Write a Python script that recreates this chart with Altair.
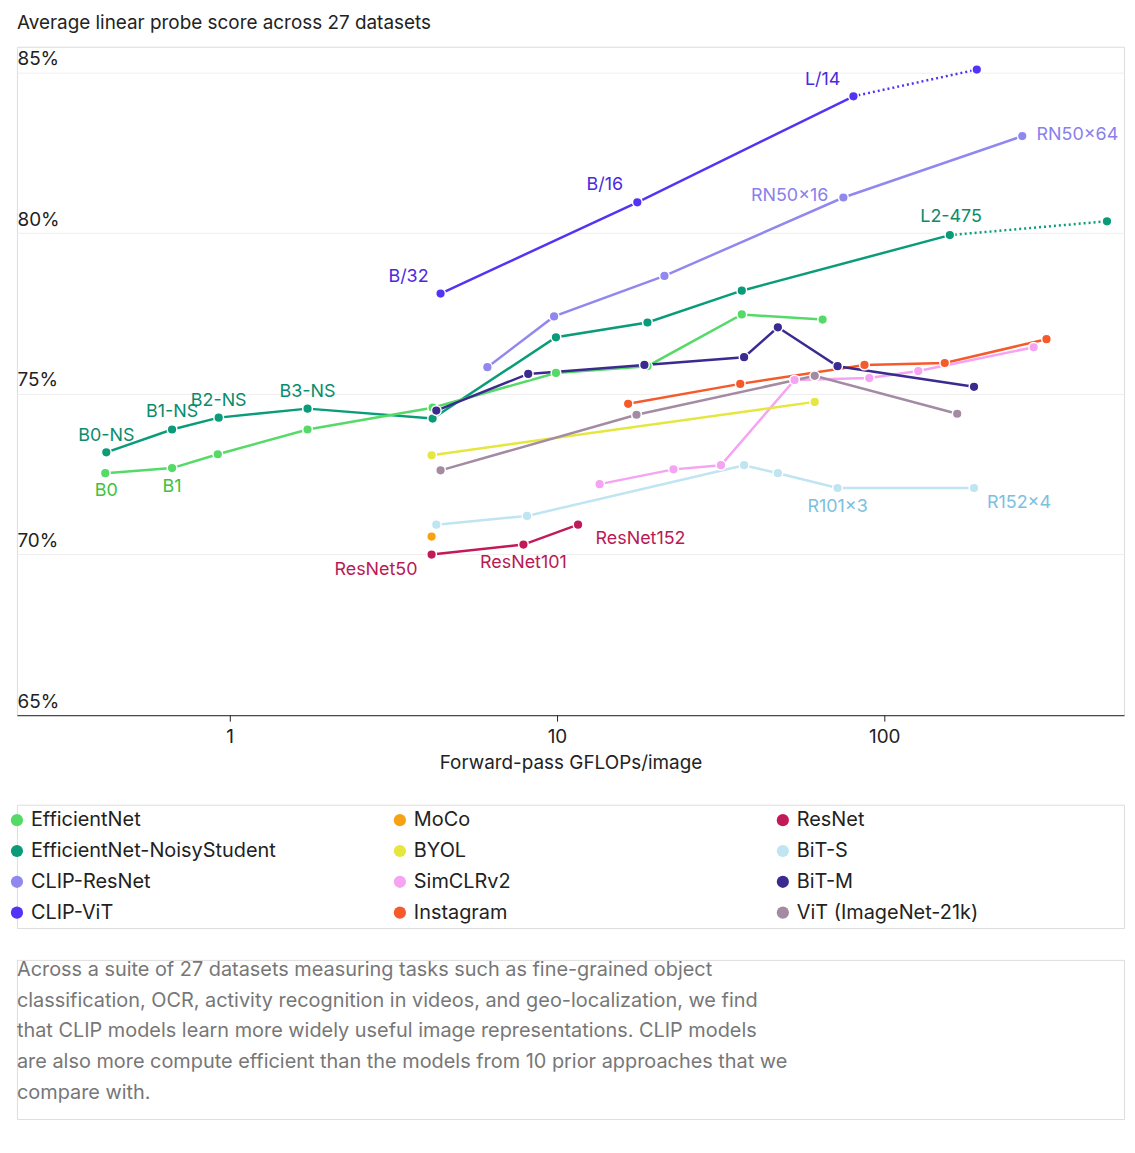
import pandas as pd
import altair as alt

FONT = "Inter"

# series: name -> (gflops list, score list)
names = ["CLIP-ViT", "Instagram", "ViT (ImageNet-21k)",
         "CLIP-ResNet", "SimCLRv2", "BiT-M",
         "EfficientNet-NoisyStudent", "BYOL", "BiT-S",
         "EfficientNet", "MoCo", "ResNet"]
colors = ["#5533f5", "#f75a2a", "#a38ba3",
          "#9188ef", "#f5a3f2", "#3b2a8f",
          "#0a9c78", "#e5e63e", "#bfe4f2",
          "#55da68", "#f7a215", "#c21a58"]

clip_vit_x = [4.41, 17.6, 80.5]
clip_vit_y = [78.12, 80.96, 84.26]
clip_vit_dot_x = [80.5, 191.7]
clip_vit_dot_y = [84.26, 85.09]
clip_rn_x = [6.13, 9.8, 21.3, 75, 264]
clip_rn_y = [75.83, 77.41, 78.67, 81.11, 83.02]
effns_x = [0.42, 0.667, 0.926, 1.73, 4.17, 9.93, 18.9, 36.7, 158.6]
effns_y = [73.18, 73.89, 74.26, 74.54, 74.23, 76.76, 77.22, 78.21, 79.94]
effns_dot_x = [158.6, 479]
effns_dot_y = [79.94, 80.37]
eff_x = [0.417, 0.667, 0.92, 1.73, 4.17, 9.93, 18.9, 36.7, 64.8]
eff_y = [72.53, 72.69, 73.12, 73.89, 74.57, 75.65, 75.86, 77.47, 77.31]
insta_x = [16.5, 36.3, 87, 153, 313]
insta_y = [74.69, 75.31, 75.9, 75.96, 76.7]
simclr_x = [13.5, 22.7, 31.7, 53.2, 90, 127, 286]
simclr_y = [72.19, 72.65, 72.78, 75.43, 75.49, 75.71, 76.45]
byol_x = [4.14, 61.3]
byol_y = [73.09, 74.75]
moco_x = [4.14]
moco_y = [70.56]
vit_x = [4.41, 17.5, 61.3, 167]
vit_y = [72.62, 74.35, 75.56, 74.38]
bitm_x = [4.28, 8.17, 18.5, 37.3, 47.3, 72, 188]
bitm_y = [74.48, 75.62, 75.9, 76.14, 77.07, 75.86, 75.22]
bits_x = [4.28, 8.1, 37.3, 47.3, 72, 188]
bits_y = [70.93, 71.2, 72.78, 72.53, 72.07, 72.07]
resnet_x = [4.14, 7.9, 11.6]
resnet_y = [70.0, 70.31, 70.93]

series = {
    "CLIP-ViT": (clip_vit_x, clip_vit_y),
    "CLIP-ResNet": (clip_rn_x, clip_rn_y),
    "EfficientNet-NoisyStudent": (effns_x, effns_y),
    "EfficientNet": (eff_x, eff_y),
    "Instagram": (insta_x, insta_y),
    "SimCLRv2": (simclr_x, simclr_y),
    "BYOL": (byol_x, byol_y),
    "MoCo": (moco_x, moco_y),
    "ViT (ImageNet-21k)": (vit_x, vit_y),
    "BiT-M": (bitm_x, bitm_y),
    "BiT-S": (bits_x, bits_y),
    "ResNet": (resnet_x, resnet_y),
}
dotted = {
    "CLIP-ViT": (clip_vit_dot_x, clip_vit_dot_y),
    "EfficientNet-NoisyStudent": (effns_dot_x, effns_dot_y),
}

# point labels: text, gflops, score, series
label_text = ["L/14", "B/16", "B/32", "RN50x16", "RN50x64", "L2-475",
              "B0-NS", "B1-NS", "B2-NS", "B3-NS", "B0", "B1",
              "R101x3", "R152x4", "ResNet50", "ResNet101", "ResNet152"]
label_x = [64.8, 14.0, 3.52, 51.4, 389, 160, 0.42, 0.667, 0.926, 1.73,
           0.42, 0.667, 72, 258, 2.8, 7.9, 18.0]
label_y = [84.78, 81.51, 78.64, 81.17, 83.06, 80.49, 73.70, 74.44, 74.78,
           75.06, 71.98, 72.10, 71.48, 71.6, 69.51, 69.72, 70.49]
label_series = ["CLIP-ViT", "CLIP-ViT", "CLIP-ViT", "CLIP-ResNet", "CLIP-ResNet",
                "EfficientNet-NoisyStudent"] + ["EfficientNet-NoisyStudent"] * 4 + \
               ["EfficientNet", "EfficientNet", "BiT-S", "BiT-S", "ResNet", "ResNet", "ResNet"]
label_colors = {"CLIP-ViT": "#4a2ae0", "CLIP-ResNet": "#8a80ec",
                "EfficientNet-NoisyStudent": "#0a8c6c", "EfficientNet": "#3cc23c",
                "BiT-S": "#7cc0e0", "ResNet": "#b81a55"}

caption = ["Across a suite of 27 datasets measuring tasks such as fine-grained object",
           "classification, OCR, activity recognition in videos, and geo-localization, we find",
           "that CLIP models learn more widely useful image representations. CLIP models",
           "are also more compute efficient than the models from 10 prior approaches that we",
           "compare with."]

rows = []
for n, (xs, ys) in series.items():
    for i, (a, b) in enumerate(zip(xs, ys)):
        rows.append({"model": n, "gflops": a, "score": b, "order": i})
pts = pd.DataFrame(rows)
drows = []
for n, (xs, ys) in dotted.items():
    for i, (a, b) in enumerate(zip(xs, ys)):
        drows.append({"model": n, "gflops": a, "score": b, "order": i})
dots = pd.DataFrame(drows)
labels = pd.DataFrame({"text": label_text, "gflops": label_x, "score": label_y,
                       "color": [label_colors[s] for s in label_series]})

cscale = alt.Scale(domain=names, range=colors)
xenc = alt.X("gflops:Q", scale=alt.Scale(type="log", domain=[0.224, 540], nice=False),
             axis=alt.Axis(values=[1, 10, 100], format="~g", grid=False, title="Forward-pass GFLOPs/image",
                           domainColor="#222", tickColor="#222", tickSize=6, labelFontSize=19,
                           titleFontSize=19, titleFontWeight="normal", labelColor="#222",
                           titleColor="#222", labelPadding=6, titlePadding=8))
yenc = alt.Y("score:Q", scale=alt.Scale(domain=[65, 85.8], nice=False),
             axis=alt.Axis(values=[65, 70, 75, 80, 85], labelExpr="datum.value + '%'", title=None,
                           domain=False, ticks=False, labelAlign="left", labelBaseline="bottom",
                           labelPadding=0, labelFontSize=19, labelColor="#222",
                           gridColor="#eeeeee", labelOffset=-4))

base = alt.Chart(pts).encode(x=xenc, y=yenc)
lines = base.mark_line(strokeWidth=2.5).encode(
    color=alt.Color("model:N", scale=cscale, legend=None), order="order:Q")
dotline = alt.Chart(dots).mark_line(strokeWidth=2.5, strokeDash=[2, 3]).encode(
    x="gflops:Q", y="score:Q", color=alt.Color("model:N", scale=cscale, legend=None))
dotpts = alt.Chart(dots[dots["order"] == 1]).mark_circle(size=95, opacity=1, stroke="white", strokeWidth=1.5).encode(
    x="gflops:Q", y="score:Q", color=alt.Color("model:N", scale=cscale, legend=None))
points = base.mark_circle(size=95, opacity=1, stroke="white", strokeWidth=1.5).encode(
    color=alt.Color("model:N", scale=cscale, legend=None))
texts = alt.Chart(labels).mark_text(fontSize=18, font=FONT, align="center").encode(
    x="gflops:Q", y="score:Q", text="text:N", color=alt.Color("color:N", scale=None))

main = alt.layer(lines, dotline, points, dotpts, texts).properties(
    width=1113, height=672,
    title=alt.TitleParams("Average linear probe score across 27 datasets", anchor="start",
                          fontSize=19, fontWeight="normal", color="#222", font=FONT, offset=14))

# legend, laid out column-wise
leg = pd.DataFrame({"model": names,
                    "col": [i % 3 for i in range(12)],
                    "row": [i // 3 for i in range(12)]})
lx = alt.X("col:Q", scale=alt.Scale(domain=[0, 1113 / 385]), axis=None)
ly = alt.Y("row:Q", scale=alt.Scale(domain=[-0.5, 3.5]), axis=None)
leg_pts = alt.Chart(leg).mark_circle(size=150, opacity=1).encode(
    x=lx, y=ly, color=alt.Color("model:N", scale=cscale, legend=None))
leg_txt = alt.Chart(leg).mark_text(align="left", dx=14, fontSize=20, font=FONT, color="#222").encode(
    x=lx, y=ly, text="model:N")
legend = alt.layer(leg_pts, leg_txt).properties(width=1113, height=124)

cap = alt.Chart(alt.Data(values=[{"t": caption}])).mark_text(
    align="left", baseline="top", fontSize=20, font=FONT, color="#777", lineHeight=31).encode(
    x=alt.value(0), y=alt.value(0), text="t:N")
cap = cap.properties(width=1113, height=160)

chart = alt.vconcat(main, legend, cap, spacing=30).configure_view(stroke=None).configure(
    font=FONT, padding={"left": 2, "top": 2, "right": 2, "bottom": 2})
chart.save("out.html", embed_options={"renderer": "svg", "actions": False})
